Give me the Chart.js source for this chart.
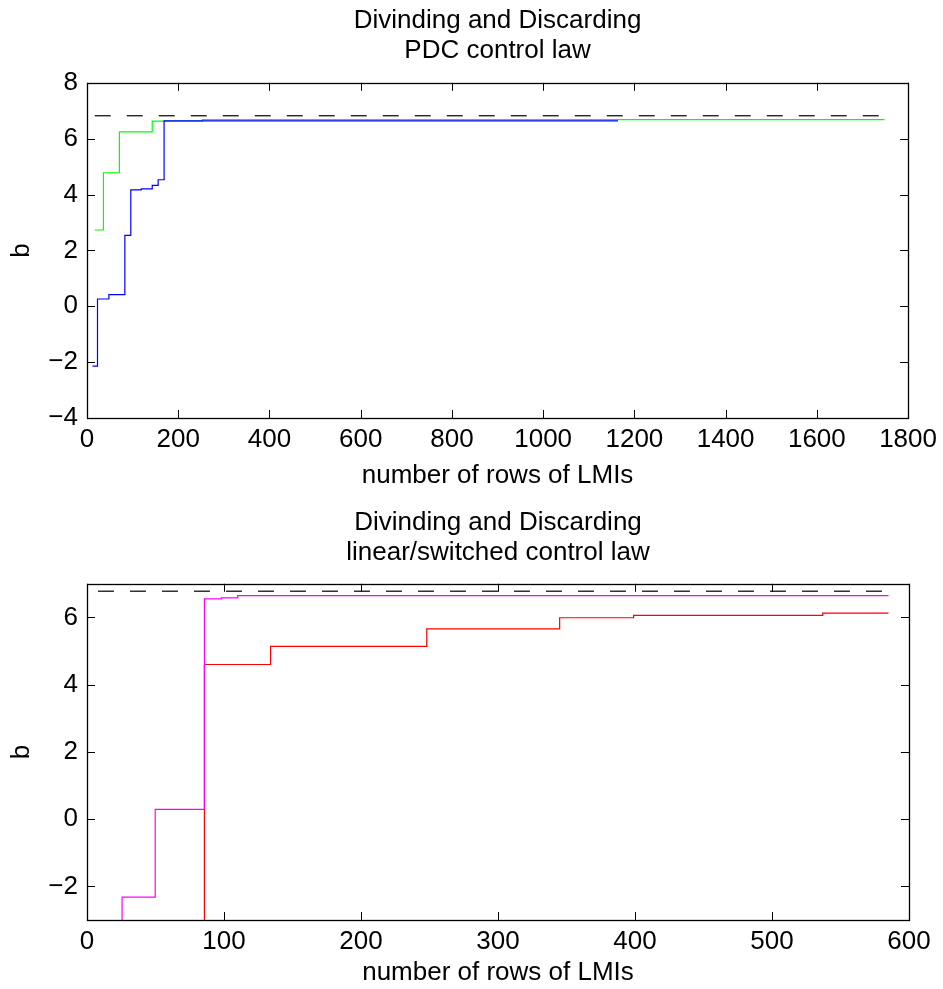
<!DOCTYPE html>
<html>
<head>
<meta charset="utf-8">
<script src="https://cdn.jsdelivr.net/npm/chart.js@4"></script>
<style>
  body { margin: 0; background: #fff; }
  canvas { display: block; }
</style>
</head>
<body>
<canvas id="topChart" width="943" height="494"></canvas>
<canvas id="bottomChart" width="943" height="495"></canvas>
<script>
// top panel: PDC control law
const topXTicks = [0, 200, 400, 600, 800, 1000, 1200, 1400, 1600, 1800];
const topYTicks = [-4, -2, 0, 2, 4, 6, 8];
const greenRows = [17, 36, 71, 143, 253, 1748];
const greenB = [2.73, 4.78, 6.24, 6.63, 6.68, 6.68];
const blueRows = [12, 23, 48, 83, 96, 119, 143, 156, 169, 1164];
const blueB = [-2.14, 0.26, 0.42, 2.54, 4.17, 4.2, 4.33, 4.53, 6.64, 6.64];
const topBoundRows = [17, 1748];
const topBound = [6.82, 6.82];

// bottom panel: linear/switched control law
const botXTicks = [0, 100, 200, 300, 400, 500, 600];
const botYTicks = [-2, 0, 2, 4, 6];
const magentaRows = [8, 25.6, 49.8, 85.7, 98, 110, 585];
const magentaB = [-10, -2.32, 0.29, 6.55, 6.58, 6.65, 6.65];
const redRows = [8, 85.7, 134, 248, 345, 399, 537, 585];
const redB = [-10, 4.6, 5.14, 5.66, 5.99, 6.06, 6.13, 6.13];
const botBoundRows = [8, 585];
const botBound = [6.78, 6.78];

const FONT = '"Liberation Sans", Arial, Helvetica, sans-serif';
Chart.defaults.font.family = FONT;
Chart.defaults.color = '#000';

const pts = (xs, ys) => xs.map((x, i) => ({ x: x, y: ys[i] }));
const fmt = v => (v < 0 ? '\u2212' + Math.abs(v) : String(v));

const stepLine = (xs, ys, color) => ({
  data: pts(xs, ys), borderColor: color, borderWidth: 1.2,
  pointRadius: 0, stepped: 'before', tension: 0, fill: false
});

const dashLine = (xs, ys) => ({
  data: pts(xs, ys), borderColor: '#000', borderWidth: 1.2,
  borderDash: [16, 16], pointRadius: 0, fill: false
});

// matlab style box with inward ticks
const frame = {
  id: 'frame',
  afterDraw(chart) {
    const { ctx, chartArea: a, scales } = chart;
    ctx.save();
    ctx.strokeStyle = '#000';
    ctx.lineWidth = 1;
    ctx.beginPath();
    scales.x.ticks.forEach(t => {
      const px = Math.round(scales.x.getPixelForValue(t.value)) + 0.5;
      ctx.moveTo(px, a.bottom); ctx.lineTo(px, a.bottom - 8);
      ctx.moveTo(px, a.top); ctx.lineTo(px, a.top + 8);
    });
    scales.y.ticks.forEach(t => {
      const py = Math.round(scales.y.getPixelForValue(t.value)) + 0.5;
      ctx.moveTo(a.left, py); ctx.lineTo(a.left + 8, py);
      ctx.moveTo(a.right, py); ctx.lineTo(a.right - 8, py);
    });
    ctx.stroke();
    ctx.lineWidth = 1.3;
    ctx.strokeRect(Math.round(a.left) + 0.5, Math.round(a.top) + 0.5,
      Math.round(a.right - a.left), Math.round(a.bottom - a.top));
    ctx.restore();
  }
};

function makeChart(id, cfg) {
  return new Chart(document.getElementById(id), {
    type: 'line',
    data: { datasets: cfg.datasets },
    options: {
      responsive: false,
      animation: false,
      layout: { padding: { left: 0, right: 34, top: 0, bottom: 0 } },
      plugins: {
        legend: { display: false },
        tooltip: { enabled: false },
        title: {
          display: true, fullSize: false, text: cfg.title, color: '#000',
          font: { size: 26, weight: 'normal', lineHeight: 1.15 },
          padding: cfg.titlePad
        }
      },
      scales: {
        x: {
          type: 'linear', min: cfg.xTicks[0], max: cfg.xTicks[cfg.xTicks.length - 1],
          afterBuildTicks: s => { s.ticks = cfg.xTicks.map(v => ({ value: v })); },
          afterFit: s => { s.height = cfg.xHeight; },
          grid: { display: false, drawTicks: false },
          border: { display: false },
          ticks: { font: { size: 26 }, padding: 6, maxRotation: 0, autoSkip: false, callback: fmt },
          title: { display: true, text: 'number of rows of LMIs', font: { size: 26 }, padding: { top: 0, bottom: cfg.xTitlePad } }
        },
        y: {
          type: 'linear', min: cfg.yMin, max: cfg.yMax,
          afterBuildTicks: s => { s.ticks = cfg.yTicks.map(v => ({ value: v })); },
          afterFit: s => { s.width = 87; },
          grid: { display: false, drawTicks: false },
          border: { display: false },
          ticks: { font: { size: 26 }, padding: 9, autoSkip: false, callback: fmt },
          title: { display: true, text: 'b', font: { size: 26 }, padding: { top: 6, bottom: 0 } }
        }
      }
    },
    plugins: [frame]
  });
}

makeChart('topChart', {
  title: ['Divinding and Discarding', 'PDC control law'],
  titlePad: { top: 6, bottom: 17 },
  xTicks: topXTicks, yTicks: topYTicks, yMin: -4, yMax: 8,
  xHeight: 76, xTitlePad: 3,
  datasets: [
    stepLine(blueRows, blueB, '#0000ff'),
    stepLine(greenRows, greenB, '#00ff00'),
    dashLine(topBoundRows, topBound)
  ]
});

makeChart('bottomChart', {
  title: ['Divinding and Discarding', 'linear/switched control law'],
  titlePad: { top: 14, bottom: 16 },
  xTicks: botXTicks, yTicks: botYTicks, yMin: -3, yMax: 7,
  xHeight: 69, xTitlePad: 1,
  datasets: [
    stepLine(magentaRows, magentaB, '#ff00ff'),
    stepLine(redRows, redB, '#ff0000'),
    dashLine(botBoundRows, botBound)
  ]
});
</script>
</body>
</html>
